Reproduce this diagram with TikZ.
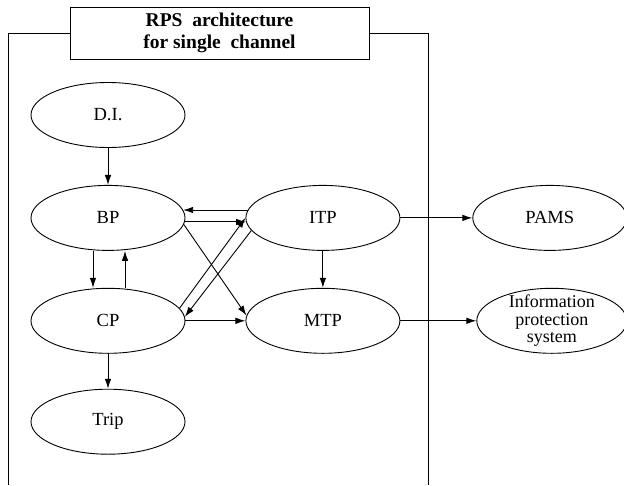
\documentclass[tikz,border=0pt]{standalone}
\usepackage{fontspec}
\setmainfont{Liberation Serif}
\usepackage{tikz}
\usetikzlibrary{shapes.geometric, positioning}
\usetikzlibrary{arrows.meta}
\tikzset{>={Latex[width=6.5pt,length=10pt]}}

\begin{document}
\begin{tikzpicture}[x=1pt, y=-1pt, line width=0.9pt, node distance=37pt, ovalnode/.style={ellipse, draw=black, line width=0.9pt, minimum width=154pt, minimum height=65pt, inner sep=0pt, font=\fontsize{18.5}{17.5}\selectfont}, titlenode/.style={rectangle, draw=black, line width=0.9pt, minimum width=299pt, minimum height=52pt, inner sep=0pt, align=center, font=\fontsize{19.5}{21.5}\selectfont\bfseries}]

    \useasboundingbox (0,0) rectangle (624,485);

    %Nodes
    \node[titlenode](title) at (219.5,33){RPS\ \ architecture\\for single\ \ channel};
    \node[ovalnode](di) at (108,115){D.I.};
    \node[ovalnode](bp)[below=of di]{BP};
    \node[ovalnode](cp)[below=of bp]{CP};
    \node[ovalnode](trip)[below=35pt of cp]{Trip};
    \node[ovalnode](itp)[right=60pt of bp]{ITP};
    \node[ovalnode](mtp)[below=of itp]{MTP};
    \node[ovalnode](pams)[right=72pt of itp]{PAMS};
    \node[ovalnode, minimum width=150pt, label={[align=center, font=\fontsize{18}{17.5}\selectfont]center:Information\\protection\\system}](info)[right=76pt of mtp]{};
    \coordinate (framebl) at (8,485);
    \coordinate (framebr) at (428,485);

    %Frame
    \draw (framebl) |- (title.west);
    \draw (title.east) -| (framebr);

    %Lines
    \draw[->] (di.south) -- (bp.north);
    \draw[->] ([xshift=-15pt]bp.south) -- ([xshift=-15pt]cp.north);
    \draw[->] ([xshift=17pt]cp.north) -- ([xshift=17pt]bp.south);
    \draw[->] (cp.south) -- (trip.north);
    \draw[->] (itp.174) -- (bp.6);
    \draw[->] (bp.-3) -- (itp.183);
    \draw[->] (bp.-5) -- (mtp.176);
    \draw[->] (cp.10) -- (itp.west);
    \draw[->] (itp.190) -- (cp.3);
    \draw[->] (cp.east) -- (mtp.west);
    \draw[->] (itp.south) -- (mtp.north);
    \draw[->] (itp.east) -- (pams.west);
    \draw[->] (mtp.east) -- (info.west);

\end{tikzpicture}
\end{document}
